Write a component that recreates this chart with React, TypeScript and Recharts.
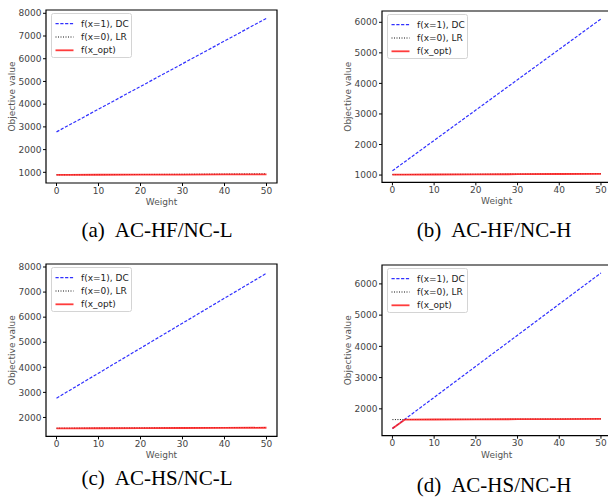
import React from 'react';
import { LineChart, Line, XAxis, YAxis, ReferenceArea, Legend } from 'recharts';

const weights = [0, 3, 10, 20, 30, 40, 50];
const xTicks = [0, 10, 20, 30, 40, 50];
const xDomain: [number, number] = [-2.5, 52.5];

// (a) AC-HF/NC-L
const dcA = [2780, 3080, 3780, 4780, 5780, 6780, 7780];
const lrA = [890, 892, 898, 905, 913, 921, 930];
const optA = [888, 890, 893, 897, 901, 906, 910];
const yTicksA = [1000, 2000, 3000, 4000, 5000, 6000, 7000, 8000];
const yDomainA: [number, number] = [530, 8145];

// (b) AC-HF/NC-H
const dcB = [1140, 1438, 2134, 3128, 4122, 5116, 6110];
const lrB = [1015, 1017, 1021, 1027, 1033, 1039, 1045];
const optB = [1013, 1015, 1018, 1023, 1028, 1034, 1040];
const yTicksB = [1000, 2000, 3000, 4000, 5000, 6000];
const yDomainB: [number, number] = [760, 6370];

// (c) AC-HS/NC-L
const dcC = [2770, 3069, 3767, 4763, 5760, 6756, 7750];
const lrC = [1570, 1572, 1576, 1582, 1588, 1594, 1600];
const optC = [1565, 1566, 1570, 1575, 1580, 1585, 1590];
const yTicksC = [2000, 3000, 4000, 5000, 6000, 7000, 8000];
const yDomainC: [number, number] = [1245, 8120];

// (d) AC-HS/NC-H
const dcD = [1370, 1669, 2366, 3362, 4358, 5354, 6350];
const lrD = [1655, 1657, 1660, 1665, 1670, 1675, 1680];
const optD = [1370, 1657, 1658, 1663, 1668, 1673, 1678];
const yTicksD = [2000, 3000, 4000, 5000, 6000];
const yDomainD: [number, number] = [1140, 6605];

const captionTags = ['(a)', '(b)', '(c)', '(d)'];
const captionNames = ['AC-HF/NC-L', 'AC-HF/NC-H', 'AC-HS/NC-L', 'AC-HS/NC-H'];
const legendOrder = ['dc', 'lr', 'opt'];

const toRows = (dc: number[], lr: number[], opt: number[]) =>
  weights.map((w, i) => ({ w, dc: dc[i], lr: lr[i], opt: opt[i] }));

const LegendBox = (props: any) => {
  const items = [...(props.payload || [])].sort(
    (a: any, b: any) => legendOrder.indexOf(a.dataKey) - legendOrder.indexOf(b.dataKey)
  );
  return (
    <svg width={81} height={45} style={{ display: 'block' }}>
      <rect x={0.5} y={0.5} width={80} height={44} rx={2} fill="#fff" fillOpacity={0.8} stroke="#d4d4d4" />
      {items.map((it: any, i: number) => {
        const y = 10.7 + i * 13.3;
        const p = it.payload || {};
        return (
          <g key={i}>
            <line x1={4.5} x2={22.5} y1={y} y2={y} stroke={it.color} strokeWidth={p.strokeWidth}
              strokeDasharray={p.strokeDasharray} strokeOpacity={p.strokeOpacity} />
            <text x={30} y={y} dy="0.35em" fontSize={9} fill="#222">{it.value}</text>
          </g>
        );
      })}
    </svg>
  );
};

const YTitle = (props: any) => {
  const vb = props.viewBox || {};
  const x = vb.x + 11.7;
  const y = vb.y + vb.height / 2;
  return (
    <text x={x} y={y} transform={`rotate(-90 ${x} ${y})`} textAnchor="middle" dy="0.35em" fontSize={9} fill="#555">
      Objective value
    </text>
  );
};

interface PanelProps {
  plot: { x: number; y: number; w: number; h: number };
  rows: any[];
  yTicks: number[];
  yDomain: [number, number];
}

const Panel: React.FC<PanelProps> = ({ plot, rows, yTicks, yDomain }) => {
  const width = 46 + plot.w + 10;
  const height = 10 + plot.h + 32;
  return (
    <div style={{ position: 'absolute', left: plot.x - 46, top: plot.y - 10 }}>
      <LineChart width={width} height={height} data={rows} margin={{ top: 10, right: 10, bottom: 2, left: 0 }}>
        <XAxis
          dataKey="w"
          type="number"
          domain={xDomain}
          ticks={xTicks}
          interval={0}
          height={30}
          axisLine={false}
          tickLine={{ stroke: '#000' }}
          tickSize={3}
          tickMargin={1.3}
          tick={{ fill: '#444', fontSize: 9 }}
          label={{ value: 'Weight', position: 'insideBottom', offset: 8, fill: '#555', fontSize: 9 }}
        />
        <YAxis
          type="number"
          domain={yDomain}
          ticks={yTicks}
          interval={0}
          width={46}
          axisLine={false}
          tickLine={{ stroke: '#000' }}
          tickSize={3}
          tickMargin={1.5}
          tick={{ fill: '#444', fontSize: 9 }}
          label={<YTitle />}
        />
        <Line type="linear" dataKey="dc" name="f(x=1), DC" stroke="#3030ff" strokeWidth={1.2}
          strokeDasharray="3.2 1.6" dot={false} isAnimationActive={false} />
        <Line type="linear" dataKey="lr" name="f(x=0), LR" stroke="#111" strokeWidth={1}
          strokeDasharray="1 1.5" dot={false} isAnimationActive={false} />
        <Line type="linear" dataKey="opt" name="f(x_opt)" stroke="#ff1a1a" strokeWidth={1.8}
          strokeOpacity={0.85} dot={false} isAnimationActive={false} />
        <ReferenceArea x1={xDomain[0]} x2={xDomain[1]} y1={yDomain[0]} y2={yDomain[1]}
          fill="none" stroke="#000" strokeWidth={1.2} />
        <Legend layout="vertical" align="center" verticalAlign="middle" content={<LegendBox />}
          wrapperStyle={{ left: 50.5, top: 12.5, width: 81, height: 45 }} />
      </LineChart>
    </div>
  );
};

const captionPos = [
  { x: 157, y: 236.7 },
  { x: 494, y: 236.7 },
  { x: 157, y: 485.3 },
  { x: 494, y: 491.5 },
];

export default function App() {
  return (
    <div style={{ position: 'absolute', left: 0, top: 0, width: 608, height: 497, overflow: 'hidden',
      background: '#fff', fontFamily: '"DejaVu Sans", sans-serif' }}>
      <Panel plot={{ x: 46, y: 10, w: 231, h: 173 }} rows={toRows(dcA, lrA, optA)} yTicks={yTicksA} yDomain={yDomainA} />
      <Panel plot={{ x: 382.3, y: 11.3, w: 229.4, h: 171.4 }} rows={toRows(dcB, lrB, optB)} yTicks={yTicksB} yDomain={yDomainB} />
      <Panel plot={{ x: 46, y: 264.3, w: 231, h: 172.4 }} rows={toRows(dcC, lrC, optC)} yTicks={yTicksC} yDomain={yDomainC} />
      <Panel plot={{ x: 382.3, y: 265.3, w: 229.4, h: 170.7 }} rows={toRows(dcD, lrD, optD)} yTicks={yTicksD} yDomain={yDomainD} />
      <svg width={608} height={497} style={{ position: 'absolute', left: 0, top: 0, pointerEvents: 'none' }}>
        <g fontFamily='"Liberation Serif", serif' fontSize={21} fill="#000" textAnchor="middle">
          {captionPos.map((p, i) => (
            <text key={i} x={p.x} y={p.y}>
              {captionTags[i]}
              <tspan dx={10}>{captionNames[i]}</tspan>
            </text>
          ))}
        </g>
      </svg>
    </div>
  );
}
